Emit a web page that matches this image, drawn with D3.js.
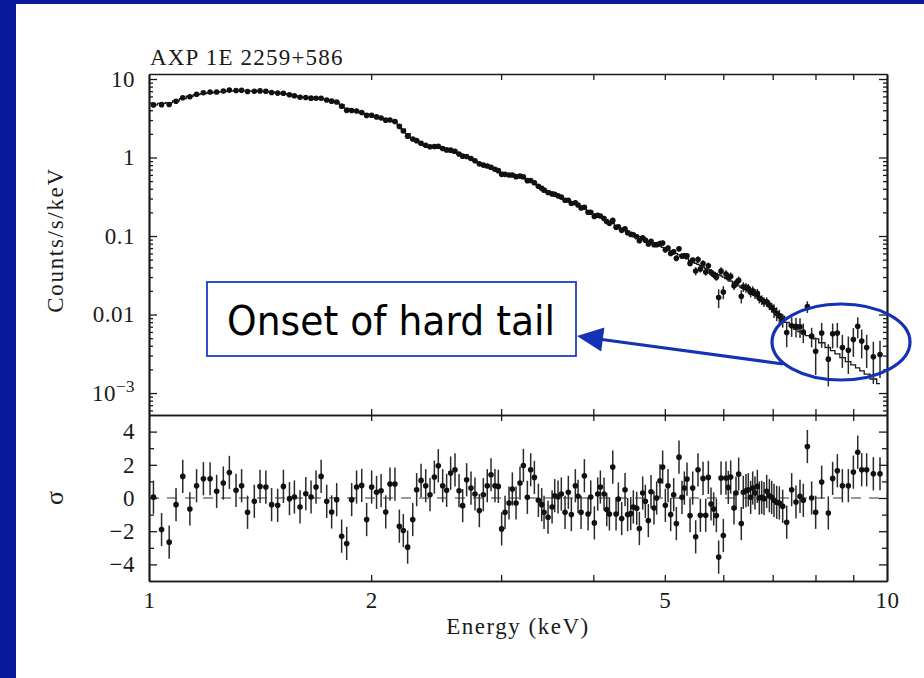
<!DOCTYPE html>
<html>
<head>
<meta charset="utf-8">
<title>AXP 1E 2259+586</title>
<script src="https://d3js.org/d3.v7.min.js"></script>
<style>
  body { margin: 0; background: #0b1a9a; }
  svg { display: block; }
</style>
</head>
<body>
<script>
// spectrum bins (keV)
var energy = [1.014,1.040,1.065,1.088,1.111,1.136,1.160,1.185,1.210,1.235,1.261,1.285,1.312,1.335,1.360,1.389,1.414,1.440,1.466,1.494,
  1.521,1.550,1.574,1.602,1.631,1.658,1.684,1.711,1.741,1.768,1.796,1.824,1.853,1.882,1.911,1.942,1.972,2.003,2.034,2.063,
  2.093,2.121,2.154,2.184,2.211,2.241,2.277,2.305,2.337,2.371,2.403,2.436,2.466,2.500,2.531,2.563,2.598,2.631,2.661,2.694,
  2.731,2.765,2.803,2.838,2.873,2.907,2.943,2.974,3.005,3.037,3.075,3.107,3.143,3.182,3.216,3.256,3.290,3.328,3.370,3.405,
  3.430,3.473,3.517,3.546,3.583,3.620,3.662,3.700,3.735,3.782,3.814,3.850,3.890,3.935,3.968,4.013,4.055,4.089,4.136,4.171,
  4.206,4.250,4.294,4.325,4.370,4.416,4.452,4.495,4.532,4.580,4.618,4.666,4.705,4.749,4.789,4.834,4.874,4.925,4.966,5.008,
  5.050,5.092,5.140,5.183,5.226,5.275,5.314,5.358,5.409,5.454,5.505,5.545,5.586,5.633,5.680,5.727,5.775,5.823,5.872,5.914,
  5.958,6.001,6.051,6.095,6.140,6.204,6.243,6.295,6.347,6.387,6.440,6.487,6.535,6.577,6.624,6.673,6.714,6.764,6.813,6.870,
  6.928,6.978,7.029,7.088,7.147,7.222,7.313,7.427,7.528,7.623,7.702,7.800,7.905,8.005,8.156,8.327,8.440,8.565,8.700,8.864,
  9.004,9.127,9.241,9.385,9.583,9.784];

// counts/s/keV
var counts = [4.68,4.71,4.74,5.21,5.77,5.95,6.40,6.68,6.84,6.84,7.01,7.22,7.14,7.18,6.93,6.97,7.05,6.98,6.74,6.61,
  6.58,6.31,6.13,5.86,5.81,5.70,5.69,5.69,5.41,5.22,5.10,4.51,3.99,3.97,3.90,3.74,3.44,3.45,3.29,3.19,
  2.99,3.01,2.88,2.49,2.18,1.87,1.72,1.64,1.52,1.43,1.37,1.38,1.39,1.30,1.25,1.24,1.20,1.11,1.04,1.03,
  0.97,0.91,0.83,0.80,0.78,0.75,0.71,0.68,0.61,0.61,0.60,0.60,0.57,0.58,0.569,0.507,0.51,0.476,0.43,0.405,
  0.384,0.358,0.344,0.341,0.325,0.313,0.285,0.286,0.260,0.265,0.248,0.228,0.233,0.201,0.201,0.177,0.184,0.180,0.167,0.153,
  0.145,0.158,0.129,0.131,0.118,0.124,0.110,0.105,0.104,0.098,0.087,0.095,0.0886,0.0794,0.0855,0.0775,0.0776,0.0804,0.0816,0.0669,
  0.0705,0.0598,0.0629,0.0522,0.0688,0.0554,0.0561,0.0560,0.0448,0.0494,0.0358,0.0501,0.0380,0.0447,0.0347,0.0418,0.0345,0.0322,0.0298,0.0165,
  0.0357,0.0193,0.0328,0.0298,0.0306,0.0233,0.0252,0.0272,0.0171,0.0226,0.0221,0.0215,0.0192,0.0201,0.0184,0.0186,0.0161,0.0154,0.0145,0.0145,
  0.0132,0.0123,0.0113,0.0103,0.0096,0.0085,0.0059,0.0072,0.0071,0.0070,0.0060,0.0126,0.0053,0.0034,0.0058,0.0027,0.0057,0.0058,0.0038,0.0035,
  0.0048,0.0071,0.0046,0.0038,0.0029,0.0031];

// 1-sigma error as a fraction of the counts
var countErr = [0.015,0.015,0.015,0.015,0.015,0.015,0.015,0.015,0.015,0.015,0.015,0.015,0.015,0.015,0.015,0.015,0.015,0.015,0.015,0.015,
  0.015,0.015,0.015,0.015,0.015,0.015,0.015,0.015,0.015,0.015,0.015,0.015,0.015,0.015,0.015,0.015,0.015,0.015,0.015,0.025,
  0.025,0.025,0.025,0.025,0.025,0.025,0.025,0.025,0.025,0.025,0.025,0.025,0.025,0.025,0.025,0.025,0.025,0.025,0.025,0.025,
  0.025,0.025,0.025,0.025,0.025,0.025,0.025,0.025,0.025,0.025,0.025,0.025,0.025,0.025,0.025,0.025,0.025,0.025,0.025,0.04,
  0.04,0.04,0.04,0.04,0.04,0.04,0.04,0.04,0.04,0.04,0.04,0.04,0.04,0.04,0.04,0.05,0.05,0.05,0.05,0.05,
  0.05,0.05,0.05,0.05,0.05,0.05,0.065,0.065,0.065,0.065,0.065,0.065,0.065,0.065,0.065,0.065,0.065,0.08,0.08,0.08,
  0.08,0.08,0.08,0.09,0.08,0.08,0.08,0.08,0.08,0.08,0.12,0.1,0.1,0.1,0.1,0.1,0.1,0.1,0.1,0.27,
  0.12,0.19,0.12,0.12,0.12,0.12,0.12,0.12,0.19,0.14,0.14,0.14,0.14,0.14,0.14,0.14,0.14,0.14,0.14,0.14,
  0.14,0.14,0.2,0.2,0.2,0.2,0.35,0.28,0.28,0.28,0.28,0.17,0.28,0.5,0.35,0.55,0.35,0.35,0.45,0.5,
  0.4,0.3,0.4,0.45,0.55,0.5];

// folded model (histogram)
var model = [4.68,4.90,5.01,5.25,5.62,6.03,6.31,6.53,6.68,6.79,6.89,7.00,7.08,7.08,7.05,7.00,6.95,6.89,6.79,6.67,
  6.49,6.31,6.12,5.92,5.78,5.69,5.62,5.55,5.43,5.31,5.11,4.73,4.22,3.98,3.85,3.68,3.53,3.40,3.27,3.16,
  3.05,2.95,2.82,2.60,2.29,2.02,1.78,1.62,1.48,1.40,1.36,1.34,1.31,1.27,1.23,1.19,1.14,1.10,1.05,1.00,
  0.955,0.902,0.847,0.800,0.759,0.721,0.692,0.664,0.646,0.627,0.607,0.592,0.575,0.560,0.537,0.507,0.484,0.459,0.432,0.412,
  0.398,0.376,0.352,0.339,0.324,0.310,0.295,0.282,0.271,0.257,0.247,0.236,0.221,0.209,0.201,0.191,0.182,0.174,0.165,0.158,
  0.152,0.144,0.136,0.132,0.126,0.120,0.116,0.111,0.107,0.102,0.098,0.093,0.0897,0.0865,0.0836,0.0804,0.0776,0.0745,0.0716,0.0692,
  0.0668,0.0646,0.0619,0.0596,0.0575,0.0552,0.0535,0.0513,0.0490,0.0471,0.0450,0.0435,0.0419,0.0403,0.0387,0.0372,0.0358,0.0345,0.0333,0.0322,
  0.0310,0.0300,0.0287,0.0277,0.0266,0.0251,0.0243,0.0232,0.0221,0.0215,0.0207,0.0200,0.0191,0.0184,0.0176,0.0168,0.0161,0.0153,0.0146,0.0137,
  0.0129,0.0122,0.0116,0.0109,0.0102,0.00944,0.00794,0.00708,0.00646,0.00603,0.00569,0.00537,0.00513,0.00490,0.00437,0.00380,0.00347,0.00316,0.00282,0.00251,
  0.00229,0.00209,0.00191,0.00174,0.00151,0.00132];

// residuals in sigma
var resid = [0.05,-1.9,-2.66,-0.4,1.3,-0.66,0.74,1.16,1.16,0.4,0.9,1.54,0.46,0.74,-0.86,-0.2,0.7,0.66,-0.4,-0.44,
  0.7,-0.04,0.06,-0.54,0.26,0.06,0.66,1.3,-0.2,-0.84,-0.1,-2.3,-2.74,-0.1,0.66,0.76,-1.3,0.66,0.34,0.44,
  -0.84,0.84,0.84,-1.7,-1.96,-2.96,-1.3,0.5,1.06,0.74,0.2,1.26,1.94,0.74,0.46,1.5,1.7,0.44,-0.46,1.1,
  0.6,0.24,-0.76,0.2,0.74,1.4,0.74,0.7,-1.86,-0.86,-0.3,0.54,-0.3,0.9,1.96,0.04,1.7,1.24,-0.14,-0.4,
  -0.86,-1.16,-0.54,0.14,0.06,0.24,-0.86,0.34,-1.0,0.74,0.1,-0.86,1.34,-0.96,0.06,-1.5,0.24,0.66,0.24,-0.7,
  -0.96,1.86,-0.96,-0.06,-1.24,0.5,-1.0,-0.94,-0.54,-0.62,-1.84,0.3,-0.2,-1.36,0.38,-0.6,0,1.04,1.86,-0.44,
  0.74,-1.0,0.2,-1.54,2.46,0.04,0.6,1.14,-1.06,0.6,-2.34,1.7,-1.04,1.18,-1.04,1.24,-0.36,-0.66,-1.06,-3.56,
  1.2,-2.26,1.2,0.64,1.26,-0.6,0.3,1.44,-1.54,0.34,0.44,0.5,0.04,0.6,0.3,0.7,0,0.04,-0.04,0.4,
  0.14,0.04,-0.14,-0.26,-0.3,-0.5,-1.46,0.5,-0.24,0.1,-0.14,3.1,0,-0.86,0.96,-0.9,1.18,1.64,0.74,0.74,
  1.56,2.76,1.7,1.7,1.46,1.46];

var xMinorTicks = [2, 3, 4, 5, 6, 7, 8, 9];
var xTickLabels = [1, 2, 5, 10];
var yDecades = [0.001, 0.01, 0.1, 1, 10];
var residMajor = [-4, -2, 0, 2, 4];
var residMinor = [-3, -1, 1, 3];

var width = 924, height = 678;
var left = 149, right = 887, top1 = 74, mid = 415, bot = 581;
var ink = "#1a1a1a", blue = "#1432b4";
var serif = "'Liberation Serif', 'Times New Roman', serif";

var svg = d3.select("body").append("svg")
    .attr("width", width)
    .attr("height", height);

// white slide area
svg.append("rect")
    .attr("x", 16).attr("y", 4)
    .attr("width", width - 16).attr("height", height - 4)
    .attr("fill", "#fff");

var x = d3.scaleLog().domain([1, 10]).range([left, right]);
var y = d3.scaleLog().domain([5.25e-4, 11.58]).range([mid, top1]);
var yr = d3.scaleLinear().domain([-5, 5]).range([bot, mid]);

var pts = energy.map(function(e, i) {
  return { e: e, c: counts[i], f: countErr[i], m: model[i], r: resid[i] };
});

function styleAxis(g) {
  g.attr("font-family", serif).attr("font-size", 23);
  g.selectAll(".domain").attr("stroke", ink).attr("stroke-width", 1.7);
  g.selectAll(".tick line").attr("stroke", ink).attr("stroke-width", 1.3);
  g.selectAll(".tick text").attr("fill", ink).attr("letter-spacing", 0.5);
}

var yMinor = y.ticks().filter(function(v) { return yDecades.indexOf(v) < 0; });

// ---- top panel axes
var gl = svg.append("g").attr("transform", "translate(" + left + ",0)")
    .call(d3.axisLeft(y).tickValues(yDecades).tickSize(-8).tickSizeOuter(0).tickPadding(14).tickFormat(String))
    .call(styleAxis);
gl.selectAll(".tick text").filter(function(d) { return d === 0.001; })
    .text("10").append("tspan").attr("dy", "-0.5em").attr("font-size", 17).text("\u22123");

svg.append("g").attr("transform", "translate(" + left + ",0)")
    .call(d3.axisLeft(y).tickValues(yMinor).tickSize(-4).tickSizeOuter(0).tickFormat(""))
    .call(styleAxis);
svg.append("g").attr("transform", "translate(" + right + ",0)")
    .call(d3.axisRight(y).tickValues(yDecades).tickSize(-8).tickSizeOuter(0).tickFormat(""))
    .call(styleAxis);
svg.append("g").attr("transform", "translate(" + right + ",0)")
    .call(d3.axisRight(y).tickValues(yMinor).tickSize(-4).tickSizeOuter(0).tickFormat(""))
    .call(styleAxis);
svg.append("g").attr("transform", "translate(0," + top1 + ")")
    .call(d3.axisTop(x).tickValues(xMinorTicks).tickSize(-6).tickSizeOuter(0).tickFormat(""))
    .call(styleAxis);
svg.append("g").attr("transform", "translate(0," + mid + ")")
    .call(d3.axisBottom(x).tickValues(xMinorTicks).tickSize(-6).tickSizeOuter(0).tickFormat(""))
    .call(styleAxis);

// ---- residual panel axes
var fmtR = function(d) { return d < 0 ? "\u2212" + Math.abs(d) : String(d); };
svg.append("g").attr("transform", "translate(" + left + ",0)")
    .call(d3.axisLeft(yr).tickValues(residMajor).tickSize(-8).tickSizeOuter(0).tickPadding(14).tickFormat(fmtR))
    .call(styleAxis);
svg.append("g").attr("transform", "translate(" + left + ",0)")
    .call(d3.axisLeft(yr).tickValues(residMinor).tickSize(-5).tickSizeOuter(0).tickFormat(""))
    .call(styleAxis);
svg.append("g").attr("transform", "translate(" + right + ",0)")
    .call(d3.axisRight(yr).tickValues(residMajor).tickSize(-8).tickSizeOuter(0).tickFormat(""))
    .call(styleAxis);
svg.append("g").attr("transform", "translate(" + right + ",0)")
    .call(d3.axisRight(yr).tickValues(residMinor).tickSize(-5).tickSizeOuter(0).tickFormat(""))
    .call(styleAxis);
svg.append("g").attr("transform", "translate(0," + mid + ")")
    .call(d3.axisTop(x).tickValues(xMinorTicks).tickSize(-6).tickSizeOuter(0).tickFormat(""))
    .call(styleAxis);
svg.append("g").attr("transform", "translate(0," + bot + ")")
    .call(d3.axisBottom(x).tickValues(xMinorTicks).tickSize(-6).tickSizeOuter(0).tickFormat(""))
    .call(styleAxis);
svg.append("g").attr("transform", "translate(0," + bot + ")")
    .call(d3.axisBottom(x).tickValues(xTickLabels).tickSize(0).tickSizeOuter(0).tickPadding(11).tickFormat(d3.format("d")))
    .call(styleAxis);

// ---- spectrum
svg.append("path")
    .datum(pts)
    .attr("fill", "none")
    .attr("stroke", ink)
    .attr("stroke-width", 1.3)
    .attr("d", d3.line().x(function(d) { return x(d.e); }).y(function(d) { return y(d.m); }).curve(d3.curveStep));

svg.append("g").selectAll("line").data(pts).join("line")
    .attr("x1", function(d) { return x(d.e); })
    .attr("x2", function(d) { return x(d.e); })
    .attr("y1", function(d) { return y(d.c * (1 - d.f)); })
    .attr("y2", function(d) { return y(d.c * (1 + d.f)); })
    .attr("stroke", "#2a2a2a").attr("stroke-width", 1.5);

svg.append("g").selectAll("circle").data(pts).join("circle")
    .attr("cx", function(d) { return x(d.e); })
    .attr("cy", function(d) { return y(d.c); })
    .attr("r", 2.8)
    .attr("fill", "#111");

// ---- residuals
svg.append("line")
    .attr("x1", left).attr("x2", right)
    .attr("y1", yr(0)).attr("y2", yr(0))
    .attr("stroke", "#333").attr("stroke-width", 1.2)
    .attr("stroke-dasharray", "10,8");

svg.append("g").selectAll("line").data(pts).join("line")
    .attr("x1", function(d) { return x(d.e); })
    .attr("x2", function(d) { return x(d.e); })
    .attr("y1", function(d) { return yr(d.r - 1); })
    .attr("y2", function(d) { return yr(d.r + 1); })
    .attr("stroke", "#2a2a2a").attr("stroke-width", 1.5);

svg.append("g").selectAll("circle").data(pts).join("circle")
    .attr("cx", function(d) { return x(d.e); })
    .attr("cy", function(d) { return yr(d.r); })
    .attr("r", 2.8)
    .attr("fill", "#111");

// ---- titles
svg.append("text")
    .attr("x", 150).attr("y", 65)
    .attr("font-family", serif).attr("font-size", 23).attr("letter-spacing", 1.2)
    .attr("fill", ink)
    .text("AXP 1E 2259+586");

svg.append("text")
    .attr("transform", "translate(63,240) rotate(-90)")
    .attr("text-anchor", "middle")
    .attr("font-family", serif).attr("font-size", 23).attr("letter-spacing", 1.7)
    .attr("fill", ink)
    .text("Counts/s/keV");

svg.append("text")
    .attr("transform", "translate(63,498) rotate(-90)")
    .attr("text-anchor", "middle")
    .attr("font-family", serif).attr("font-size", 26)
    .attr("fill", ink)
    .text("\u03c3");

svg.append("text")
    .attr("x", (left + right) / 2).attr("y", 634)
    .attr("text-anchor", "middle")
    .attr("font-family", serif).attr("font-size", 23).attr("letter-spacing", 1.5)
    .attr("fill", ink)
    .text("Energy (keV)");

// ---- annotation
svg.append("rect")
    .attr("x", 207).attr("y", 282)
    .attr("width", 369).attr("height", 74)
    .attr("fill", "#fff")
    .attr("stroke", "#1e3cc8").attr("stroke-width", 1.8);

svg.append("text")
    .attr("x", 227).attr("y", 335)
    .attr("font-family", "'DejaVu Sans', Verdana, sans-serif")
    .attr("font-size", 41)
    .attr("textLength", 328).attr("lengthAdjust", "spacingAndGlyphs")
    .attr("fill", "#000")
    .text("Onset of hard tail");

svg.append("ellipse")
    .attr("cx", 841).attr("cy", 342)
    .attr("rx", 69).attr("ry", 38)
    .attr("fill", "none")
    .attr("stroke", blue).attr("stroke-width", 3.2);

svg.append("line")
    .attr("x1", 783).attr("y1", 364)
    .attr("x2", 602).attr("y2", 339.5)
    .attr("stroke", blue).attr("stroke-width", 3.2);

svg.append("polygon")
    .attr("points", "577,336 604.4,327.6 601.2,351.4")
    .attr("fill", blue);
</script>
</body>
</html>
